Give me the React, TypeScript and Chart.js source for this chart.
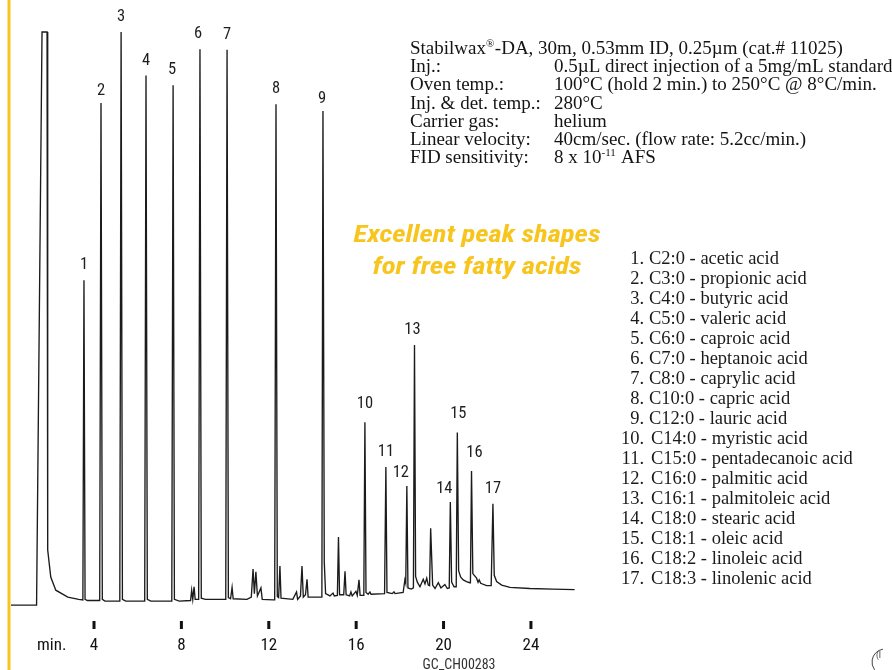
import { useEffect, useRef } from 'react';
import { Chart, registerables } from 'chart.js';

Chart.register(...registerables);

// ---- Numbered peaks: retention time (min) and detector response ----
const peakNumbers = [1, 2, 3, 4, 5, 6, 7, 8, 9, 10, 11, 12, 13, 14, 15, 16, 17];
const peakTimes = [3.54, 4.32, 5.24, 6.38, 7.62, 8.85, 10.09, 12.33, 14.48, 16.4, 17.36, 18.32, 18.67, 20.31, 20.63, 21.28, 22.26];
const peakHeights = [56.7, 87.6, 100, 92.4, 90.7, 97.0, 96.9, 87.4, 86.2, 31.9, 24.1, 20.8, 45.4, 18.0, 30.1, 23.4, 17.7];

// ---- Solvent front, baseline, peak feet and minor unlabelled peaks ----
const backgroundTimes = [
  0.2, 1.37, 1.62, 1.85, 1.88, 2.02, 2.25, 2.8, 3.3,
  3.49, 3.59, 3.7,
  4.26, 4.38, 4.5,
  5.18, 5.3, 5.45,
  6.32, 6.44, 6.6,
  7.56, 7.68, 7.9,
  8.42, 8.47, 8.52, 8.58, 8.63,
  8.79, 8.91, 9.1,
  10.03, 10.15, 10.25, 10.32, 10.37, 11.0,
  11.2, 11.28, 11.34, 11.41, 11.48, 11.64, 11.7, 12.2,
  12.27, 12.39, 12.45, 12.51, 12.56, 13.1,
  13.27, 13.32, 13.45, 13.52, 13.58, 13.68, 13.75, 13.8, 14.35,
  14.43, 14.54, 14.6, 14.8, 14.94, 15.0, 15.14,
  15.19, 15.24, 15.43, 15.49, 15.54, 15.7, 15.76, 15.82, 15.99, 16.05, 16.13, 16.18, 16.35,
  16.45, 16.55, 16.63, 16.68, 17.3,
  17.31, 17.41, 17.65, 17.73, 17.78, 18.15,
  18.23, 18.27, 18.37, 18.52,
  18.62, 18.72, 18.8, 18.92, 19.07, 19.15, 19.23, 19.3,
  19.36, 19.41, 19.5, 19.61, 19.76, 19.88, 20.06, 20.17,
  20.26, 20.37, 20.48,
  20.58, 20.69, 20.78, 20.9, 21.05, 21.2,
  21.23, 21.34, 21.51, 21.58, 21.63, 21.7, 21.97, 22.18,
  22.21, 22.32, 22.43, 22.66, 23.04, 23.95, 25.0, 26.0,
];
const backgroundSignal = [
  0, 0, 100, 100, 9.6, 4.9, 2.6, 1.4, 1.0,
  0.9, 1.0, 0.8,
  0.8, 1.0, 0.7,
  0.7, 1.0, 0.7,
  0.7, 1.0, 0.7,
  0.7, 1.0, 0.7,
  0.8, 2.6, 1.0, 3.2, 1.0,
  1.0, 1.2, 1.0,
  1.0, 1.3, 1.1, 3.1, 1.1, 1.0,
  1.4, 6.3, 2.0, 5.8, 1.6, 3.0, 1.0, 0.9,
  0.9, 1.5, 1.3, 6.8, 1.2, 1.0,
  2.3, 1.0, 1.6, 6.8, 1.4, 1.8, 4.5, 1.4, 1.4,
  1.4, 7.5, 2.0, 1.6, 2.1, 1.6, 1.7,
  11.9, 1.8, 1.8, 5.9, 1.8, 1.6, 2.3, 1.6, 2.4, 1.7, 4.4, 1.7, 1.7,
  2.2, 1.9, 2.3, 1.9, 2.0,
  2.0, 2.2, 2.0, 2.3, 2.0, 2.2,
  4.4, 3.8, 3.0, 2.8,
  3.0, 5.0, 4.0, 3.2, 4.5, 3.7, 4.7, 3.5,
  3.4, 13.4, 3.5, 2.9, 3.9, 3.0, 3.6, 2.9,
  3.0, 4.0, 3.2,
  3.2, 6.0, 4.9, 4.4, 4.1, 3.9,
  3.9, 5.5, 4.7, 4.0, 4.4, 3.8, 3.4, 3.4,
  3.4, 5.2, 4.1, 3.5, 3.1, 2.9, 2.8, 2.7,
];

// ---- Axis ----
const timeTicks = [4, 8, 12, 16, 20, 24];

// ---- Method conditions ----
const columnLine = 'Stabilwax^{®}-DA, 30m, 0.53mm ID, 0.25µm (cat.# 11025)';
const conditionLabels = ['Inj.:', 'Oven temp.:', 'Inj. & det. temp.:', 'Carrier gas:', 'Linear velocity:', 'FID sensitivity:'];
const conditionValues = [
  '0.5µL direct injection of a 5mg/mL standard',
  '100°C (hold 2 min.) to 250°C @ 8°C/min.',
  '280°C',
  'helium',
  '40cm/sec. (flow rate: 5.2cc/min.)',
  '8 x 10^{-11} AFS',
];

// ---- Peak identification ----
const compoundNames = [
  'C2:0 - acetic acid',
  'C3:0 - propionic acid',
  'C4:0 - butyric acid',
  'C5:0 - valeric acid',
  'C6:0 - caproic acid',
  'C7:0 - heptanoic acid',
  'C8:0 - caprylic acid',
  'C10:0 - capric acid',
  'C12:0 - lauric acid',
  'C14:0 - myristic acid',
  'C15:0 - pentadecanoic acid',
  'C16:0 - palmitic acid',
  'C16:1 - palmitoleic acid',
  'C18:0 - stearic acid',
  'C18:1 - oleic acid',
  'C18:2 - linoleic acid',
  'C18:3 - linolenic acid',
];

const headlineLines = ['Excellent peak shapes', 'for free fatty acids'];

// label nudges (px) for crowded peak numbers
const labelNudge: Record<number, [number, number]> = {
  2: [0, 3], 5: [-1, 0], 6: [-2, 0], 9: [-1, 3], 10: [0, -3], 12: [-6, 2], 13: [-2, 0],
  14: [-6, 2], 15: [1, -4], 16: [3, -3],
};

const YELLOW = '#F7C51D';
const NARROW = "'Liberation Sans Narrow', 'Arial Narrow', 'Roboto Condensed', 'Liberation Sans', Arial, sans-serif";
const SERIF = "'Liberation Serif', 'Times New Roman', Times, serif";

function buildTrace() {
  const pts: { x: number; y: number }[] = [];
  backgroundTimes.forEach((t, i) => pts.push({ x: t, y: backgroundSignal[i] }));
  peakTimes.forEach((t, i) => pts.push({ x: t, y: peakHeights[i] }));
  pts.sort((a, b) => a.x - b.x);
  return pts;
}

// draws text containing ^{...} superscript runs
function drawRich(ctx: CanvasRenderingContext2D, text: string, x: number, y: number, size: number) {
  const parts = text.split(/(\^\{[^}]*\})/);
  let cx = x;
  for (const p of parts) {
    if (!p) continue;
    if (p.startsWith('^{')) {
      const s = p.slice(2, -1);
      ctx.font = `${Math.round(size * 0.58)}px ${SERIF}`;
      ctx.fillText(s, cx, y - size * 0.38);
      cx += ctx.measureText(s).width + 0.5;
    } else {
      ctx.font = `${size}px ${SERIF}`;
      ctx.fillText(p, cx, y);
      cx += ctx.measureText(p).width;
    }
  }
}

const decorPlugin = {
  id: 'chromDecor',
  beforeDraw(chart: Chart) {
    const ctx = chart.ctx;
    ctx.save();
    ctx.fillStyle = '#ffffff';
    ctx.fillRect(0, 0, chart.width, chart.height);
    ctx.restore();
  },
  afterDraw(chart: Chart) {
    const ctx = chart.ctx;
    const xs = chart.scales.x;
    const ys = chart.scales.y;
    const bottom = chart.chartArea.bottom;
    ctx.save();

    // left accent bar
    ctx.fillStyle = YELLOW;
    ctx.fillRect(7.5, 0, 3, chart.height);

    // peak numbers
    ctx.fillStyle = '#1e1e1e';
    ctx.font = `16.5px ${NARROW}`;
    ctx.textAlign = 'center';
    ctx.textBaseline = 'middle';
    peakNumbers.forEach((n, i) => {
      const nudge = labelNudge[n] || [0, 0];
      const px = xs.getPixelForValue(peakTimes[i]) + nudge[0];
      const py = ys.getPixelForValue(peakHeights[i]) - 15 + nudge[1];
      ctx.fillText(String(n), px, py);
    });

    // time axis ticks
    ctx.fillStyle = '#111';
    ctx.textBaseline = 'alphabetic';
    ctx.font = `17px ${NARROW}`;
    timeTicks.forEach((t) => {
      const px = xs.getPixelForValue(t);
      ctx.fillRect(px - 1.5, bottom + 1, 3, 8);
      ctx.fillText(String(t), px, bottom + 30);
    });
    ctx.textAlign = 'left';
    ctx.fillText('min.', 37, bottom + 30);

    ctx.fillStyle = '#333';
    ctx.font = `14px ${NARROW}`;
    ctx.textAlign = 'center';
    ctx.fillText('GC_CH00283', 459, 669);

    // headline
    ctx.fillStyle = YELLOW;
    ctx.font = `italic bold 24px ${NARROW}`;
    const headWidths = [247, 209];
    const headBase = [242, 274];
    headlineLines.forEach((line, i) => {
      const w = ctx.measureText(line).width;
      ctx.save();
      ctx.translate(477, headBase[i]);
      ctx.scale(headWidths[i] / w, 1);
      ctx.textAlign = 'center';
      ctx.fillText(line, 0, 0);
      ctx.restore();
    });

    // method conditions
    ctx.fillStyle = '#141414';
    ctx.textAlign = 'left';
    ctx.textBaseline = 'alphabetic';
    drawRich(ctx, columnLine, 410, 54, 19);
    conditionLabels.forEach((lab, i) => {
      const y = 54 + 18.2 * (i + 1);
      drawRich(ctx, lab, 410, y, 19);
      drawRich(ctx, conditionValues[i], 554, y, 19);
    });

    // compound list
    ctx.fillStyle = '#1a1a1a';
    ctx.font = `18.5px ${SERIF}`;
    compoundNames.forEach((name, i) => {
      const y = 263.5 + 20 * i;
      const n = peakNumbers[i];
      ctx.textAlign = 'right';
      ctx.fillText(`${n}.`, 644, y);
      ctx.textAlign = 'left';
      ctx.fillText(name, n >= 10 ? 651 : 649, y);
    });

    // corner mark
    ctx.strokeStyle = '#444';
    ctx.lineWidth = 1;
    ctx.beginPath();
    ctx.arc(885, 662, 13, Math.PI * 0.55, Math.PI * 1.45);
    ctx.stroke();
    ctx.fillStyle = '#444';
    ctx.font = `9px ${NARROW}`;
    ctx.fillText('(I', 876, 658);

    ctx.restore();
  },
};

export default function App() {
  const canvasRef = useRef<HTMLCanvasElement>(null);

  useEffect(() => {
    const canvas = canvasRef.current;
    if (!canvas) return;
    const chart = new Chart(canvas, {
      type: 'line',
      data: {
        datasets: [
          {
            data: buildTrace(),
            borderColor: '#1b1b1b',
            borderWidth: 1.35,
            pointRadius: 0,
            tension: 0,
            fill: false,
            clip: 3,
          },
        ],
      },
      options: {
        responsive: false,
        animation: false,
        parsing: true,
        layout: { padding: { left: 11, right: 313, top: 32, bottom: 50 } },
        scales: {
          x: { type: 'linear', min: 0.2, max: 26.2, display: false },
          y: { type: 'linear', min: -2.6, max: 100, display: false },
        },
        plugins: {
          legend: { display: false },
          tooltip: { enabled: false },
        },
      },
      plugins: [decorPlugin],
    });
    return () => chart.destroy();
  }, []);

  return (
    <div style={{ position: 'fixed', left: 0, top: 0, width: 892, height: 670, background: '#fff' }}>
      <canvas ref={canvasRef} width={892} height={670} style={{ display: 'block', width: 892, height: 670 }} />
    </div>
  );
}
